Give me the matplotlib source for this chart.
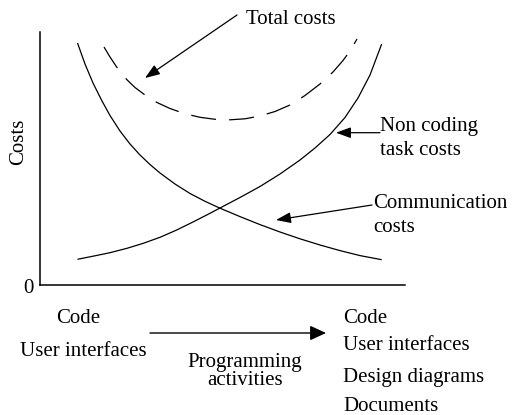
import matplotlib
matplotlib.use('Agg')
import matplotlib.pyplot as plt

plt.rcParams['font.family'] = ['Liberation Serif', 'DejaVu Serif']
plt.rcParams['lines.scale_dashes'] = False

## curves, x = programming activities, y = costs
comm_x = [3.75, 4.5, 5.3, 6.2, 7.0, 8.0, 9.0, 10.0, 11.0, 12.0, 13.5, 15.0, 16.5, 18.0,
          20.0, 22.0, 24.0, 26.0, 28.0, 30.0, 32.0, 34.17]
comm_y = [24.2, 22.1, 20.2, 18.4, 16.95, 15.4, 14.1, 13.0, 12.05, 11.2, 10.1, 9.15, 8.37, 7.68,
          6.84, 6.04, 5.3, 4.62, 4.0, 3.44, 2.94, 2.53]

noncoding_x = [3.75, 5.4, 7.0, 8.7, 10.33, 12.0, 13.67, 15.3, 17.0, 18.0, 20.0, 22.0, 24.0,
               26.0, 27.5, 29.0, 30.5, 31.8, 33.0, 34.17]
noncoding_y = [2.57, 2.9, 3.23, 3.67, 4.17, 4.77, 5.5, 6.3, 7.17, 7.7, 8.75, 9.85, 11.1,
               12.5, 13.7, 15.05, 16.75, 18.7, 21.0, 24.1]

total_x = [6.4, 7.0, 7.7, 8.67, 9.5, 10.5, 11.7, 13.0, 14.5, 16.0, 17.5, 19.0, 20.5, 22.0,
           23.5, 25.0, 26.5, 28.0, 29.3, 30.3, 31.0, 31.7]
total_y = [23.8, 22.8, 21.75, 20.55, 19.75, 19.0, 18.25, 17.65, 17.12, 16.77, 16.57, 16.52,
           16.62, 16.9, 17.35, 18.0, 18.95, 20.1, 21.3, 22.45, 23.4, 24.6]

left_labels = ['Code', 'User interfaces']
right_labels = ['Code', 'User interfaces', 'Design diagrams', 'Documents']

W, H = 512, 415
fig = plt.figure(figsize=(W / 100, H / 100), dpi=100)
ax = fig.add_axes([40 / W, 1 - 285 / H, 365 / W, 253 / H])
ax.set_xlim(0, 36.5)
ax.set_ylim(0, 25.3)
for s in ['top', 'right']:
    ax.spines[s].set_visible(False)
for s in ['left', 'bottom']:
    ax.spines[s].set_linewidth(1.1)
ax.set_xticks([])
ax.set_yticks([])
ax.patch.set_alpha(0)

line_kw = dict(color='black', lw=0.9, solid_joinstyle='round', solid_capstyle='butt')
ax.plot(comm_x, comm_y, **line_kw)
ax.plot(noncoding_x, noncoding_y, **line_kw)
ax.plot(total_x, total_y, linestyle=(0, (18, 9.5)), **line_kw)


def fp(x, y):  # figure pixels, measured from the top left
    return (x, H - y)


def label(x, y, s, **kw):
    fig.text(x / W, 1 - y / H, s, fontsize=15, va='baseline', **kw)


arrow = dict(arrowstyle='-|>,head_length=0.6,head_width=0.22', mutation_scale=15,
             color='black', lw=0.9, shrinkA=0, shrinkB=0)

# callouts
label(246, 24, 'Total costs')
ax.annotate('', xy=(10.5, 20.7), xycoords='data', xytext=fp(237, 15),
            textcoords='figure pixels', arrowprops=arrow, annotation_clip=False)

label(380, 130.7, 'Non coding')
label(380, 155, 'task costs')
ax.annotate('', xy=(29.6, 15.23), xycoords='data', xytext=fp(380, 132.7),
            textcoords='figure pixels', arrowprops=arrow, annotation_clip=False)

label(373, 208.3, 'Communication')
label(373, 231.7, 'costs')
ax.annotate('', xy=(23.6, 6.5), xycoords='data', xytext=fp(372, 205),
            textcoords='figure pixels', arrowprops=arrow, annotation_clip=False)

# axis texts
fig.text(18.5 / W, 1 - 142 / H, 'Costs', fontsize=15, rotation=90, ha='center', va='center')
label(34, 293, '0', ha='right')

label(78.5, 323.3, left_labels[0], ha='center')
label(20, 356, left_labels[1])

right_base = [323.3, 350, 381.7, 410.5]
for txt, yb in zip(right_labels, right_base):
    label(343, yb, txt)

label(245, 366.7, 'Programming', ha='center')
label(245, 385, 'activities', ha='center')
ax.annotate('', xy=fp(326, 333), xycoords='figure pixels', xytext=fp(150, 333),
            textcoords='figure pixels',
            arrowprops=dict(arrowstyle='-|>,head_length=0.65,head_width=0.3', mutation_scale=15,
                            color='black', lw=1.0, shrinkA=0, shrinkB=0),
            annotation_clip=False)

fig.savefig('out.png', dpi=100)
